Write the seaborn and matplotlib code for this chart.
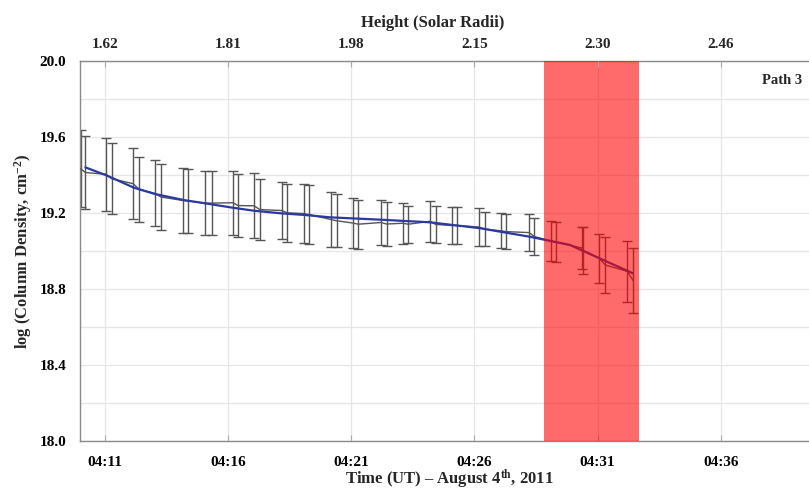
import numpy as np
import pandas as pd
import seaborn as sns
import matplotlib
matplotlib.use("Agg")
import matplotlib.pyplot as plt

# ---- data (minutes after 04:00 UT) ----
t_obs = [10.03, 10.22, 11.05, 11.28, 12.16, 12.40, 13.04, 13.29, 14.17, 14.39,
         15.07, 15.34, 16.20, 16.42, 17.06, 17.30, 18.18, 18.41, 19.09, 19.29,
         20.18, 20.42, 21.09, 21.29, 22.21, 22.44, 23.09, 23.32, 24.20, 24.43,
         25.08, 25.31, 26.20, 26.43, 27.08, 27.29, 28.22, 28.44, 29.10, 29.32,
         30.36, 30.42, 31.07, 31.32, 32.21, 32.45]
logN_obs = [19.433, 19.413, 19.404, 19.381, 19.354, 19.325, 19.303, 19.284, 19.266, 19.263,
            19.252, 19.252, 19.254, 19.239, 19.238, 19.218, 19.213, 19.201, 19.197, 19.192,
            19.166, 19.159, 19.147, 19.141, 19.150, 19.142, 19.146, 19.141, 19.156, 19.140,
            19.134, 19.134, 19.126, 19.115, 19.106, 19.102, 19.097, 19.076, 19.053, 19.047,
            19.016, 19.003, 18.961, 18.926, 18.893, 18.843]
logN_err = [0.203, 0.194, 0.192, 0.186, 0.187, 0.171, 0.174, 0.174, 0.169, 0.167,
            0.169, 0.169, 0.169, 0.167, 0.171, 0.161, 0.152, 0.152, 0.156, 0.155,
            0.146, 0.139, 0.130, 0.128, 0.118, 0.116, 0.109, 0.097, 0.107, 0.097,
            0.099, 0.099, 0.099, 0.089, 0.092, 0.092, 0.097, 0.097, 0.105, 0.104,
            0.112, 0.124, 0.128, 0.146, 0.161, 0.171]

t_fit = [10.22, 11.04, 12.19, 13.04, 14.22, 15.07, 16.19, 17.06, 18.18, 19.09,
         20.17, 22.17, 24.20, 26.23, 28.25, 29.88, 31.09, 32.43]
logN_fit = [19.440, 19.400, 19.333, 19.300, 19.268, 19.251, 19.228, 19.212, 19.198, 19.190,
            19.177, 19.165, 19.151, 19.120, 19.075, 19.032, 18.961, 18.883]

shade_start, shade_end = 28.83, 32.68

bottom_ticks = [11, 16, 21, 26, 31, 36]
bottom_labels = ["04:11", "04:16", "04:21", "04:26", "04:31", "04:36"]
top_labels = ["1.62", "1.81", "1.98", "2.15", "2.30", "2.46"]
y_major = [18.0, 18.4, 18.8, 19.2, 19.6, 20.0]

df_obs = pd.DataFrame({"t": t_obs, "logN": logN_obs, "err": logN_err})
df_fit = pd.DataFrame({"t": t_fit, "logN": logN_fit})

sns.set_theme(style="white")
plt.rcParams["font.family"] = ["Liberation Serif", "DejaVu Serif"]
plt.rcParams["font.weight"] = "bold"
plt.rcParams["mathtext.fontset"] = "custom"
plt.rcParams["mathtext.rm"] = "Liberation Serif:bold"
plt.rcParams["mathtext.default"] = "regular"

fig = plt.figure(figsize=(8.09, 4.92), dpi=100)
W, H = 809, 492
ax = fig.add_axes([80 / W, (H - 441) / H, 739.3 / W, 380 / H])

ax.errorbar(df_obs["t"], df_obs["logN"], yerr=df_obs["err"], fmt="none",
            ecolor="#555555", elinewidth=1.0, capsize=3.8, capthick=1.0, zorder=2)
sns.lineplot(data=df_obs, x="t", y="logN", ax=ax, color="#555555", linewidth=1.0,
             zorder=3, estimator=None, sort=False)
sns.lineplot(data=df_fit, x="t", y="logN", ax=ax, color="#2b3a9e", linewidth=1.6,
             zorder=4, estimator=None, sort=False)
ax.axvspan(shade_start, shade_end, color="#ff0000", alpha=0.58, lw=0, zorder=5)

ax.set_xlim(10.0, 40.0)
ax.set_ylim(18.0, 20.0)
ax.set_xticks(bottom_ticks)
ax.set_xticklabels(bottom_labels)
ax.set_yticks(y_major)
ax.set_yticklabels([f"{v:.1f}" for v in y_major])
ax.set_yticks(np.arange(18.2, 20.0, 0.4), minor=True)
ax.grid(True, which="both", axis="y", color="#e6e6e6", lw=0.9, zorder=0)
ax.grid(True, which="major", axis="x", color="#e6e6e6", lw=0.9, zorder=0)
ax.set_axisbelow(True)

for s in ["left", "bottom", "top"]:
    ax.spines[s].set_color("#8a8a8a")
    ax.spines[s].set_linewidth(1.0)
ax.spines["right"].set_visible(False)

ax.tick_params(axis="both", which="both", direction="in", color="#aaaaaa",
               length=4, width=0.8, labelsize=11, labelcolor="black")
ax.tick_params(axis="y", pad=10)
ax.tick_params(axis="x", pad=11)

ax.set_xlabel("Time (UT) \u2013 August 4$^{th}$, 2011", fontsize=12, fontweight="bold", labelpad=-1)
ax.set_ylabel("log (Column Density, cm$^{-2}$)", fontsize=12, fontweight="bold", labelpad=4)

ax2 = ax.twiny()
ax2.set_xlim(ax.get_xlim())
ax2.set_xticks(bottom_ticks)
ax2.set_xticklabels(top_labels)
ax2.tick_params(axis="x", direction="in", color="#aaaaaa", length=4, width=0.8,
                labelsize=11, pad=7.5)
for s in ax2.spines.values():
    s.set_visible(False)
ax2.set_xlabel("Height (Solar Radii)", fontsize=12, fontweight="bold")
ax2.xaxis.set_label_coords(0.477, 1.09)

ax.text(0.9766, 0.95, "Path 3", transform=ax.transAxes, ha="right", va="center",
        fontsize=10.5, fontweight="bold")

fig.savefig("out.png", dpi=100)
